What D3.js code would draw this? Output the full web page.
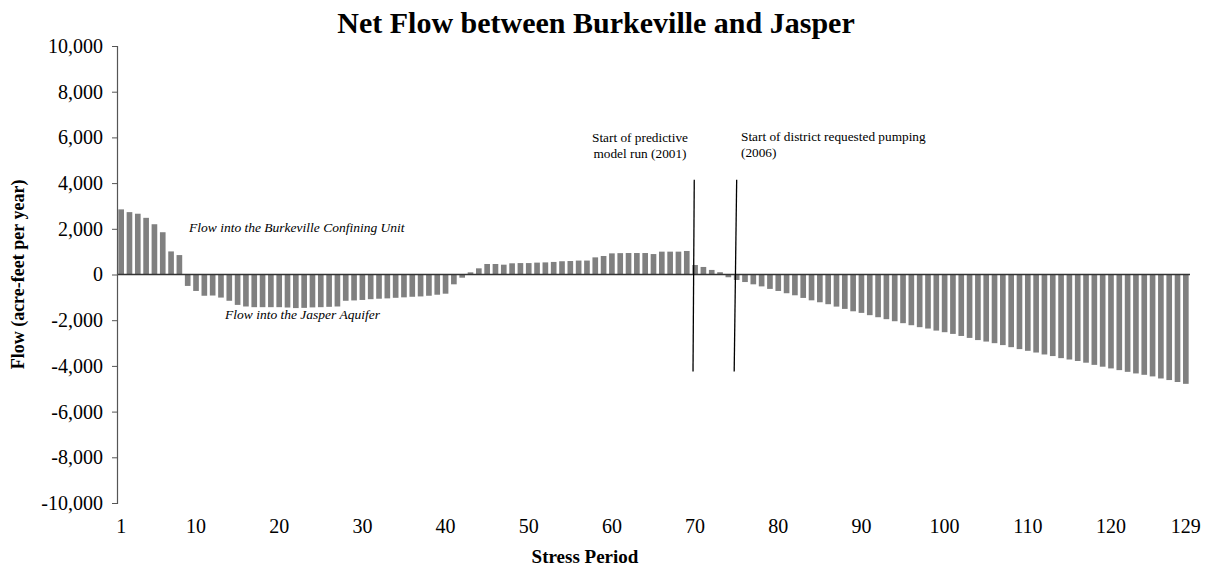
<!DOCTYPE html>
<html>
<head>
<meta charset="utf-8">
<script src="https://cdn.jsdelivr.net/npm/d3@7/dist/d3.min.js"></script>
<style>
  body { margin: 0; background: #fff; }
  text { font-family: "Liberation Serif", "Times New Roman", serif; fill: #000; }
</style>
</head>
<body>
<div id="chart"></div>
<script>
// stress periods 1..129
const periods = d3.range(1, 130)

// net flow per stress period (acre-feet per year)
const netFlow = [
  2850, 2730, 2660, 2480, 2200, 1850, 1010, 850, -500, -720,
  -930, -920, -1010, -1150, -1330, -1400, -1430, -1430, -1430, -1430,
  -1445, -1470, -1460, -1440, -1430, -1415, -1400, -1150, -1135, -1114,
  -1080, -1060, -1045, -1020, -1000, -975, -960, -930, -885, -840,
  -430, -140, 95, 270, 460, 460, 430, 490, 500, 500,
  520, 530, 550, 580, 590, 610, 610, 750, 810, 925,
  935, 940, 940, 940, 895, 1000, 1000, 1000, 1030, 415,
  330, 200, 100, -120, -240, -330, -430, -520, -630, -720,
  -820, -910, -1025, -1130, -1215, -1300, -1405, -1505, -1610, -1680,
  -1780, -1870, -1955, -2045, -2130, -2220, -2305, -2365, -2455, -2525,
  -2600, -2690, -2775, -2870, -2935, -3005, -3090, -3180, -3265, -3340,
  -3415, -3500, -3570, -3660, -3720, -3785, -3860, -3955, -4035, -4110,
  -4185, -4260, -4330, -4390, -4460, -4550, -4620, -4705, -4785
]

const xTickLabels = [1, 10, 20, 30, 40, 50, 60, 70, 80, 90, 100, 110, 120, 129]
const yTicks = [-10000, -8000, -6000, -4000, -2000, 0, 2000, 4000, 6000, 8000, 10000]

// vertical marker lines: [period at top, period at bottom, top value, bottom value]
const markerLines = [
  [69.9, 69.75, 4150, -4250],
  [75.0, 74.7, 4150, -4250]
]

const title = 'Net Flow between Burkeville and Jasper'
const xTitle = 'Stress Period'
const yTitle = 'Flow (acre-feet per year)'

const width = 1212, height = 573
const plot = {left: 117, right: 1190, top: 46, bottom: 503}

let svg = d3.select('#chart').append('svg')
  .attr('width', width)
  .attr('height', height)

let x = d3.scaleBand()
  .domain(periods)
  .range([plot.left, plot.right])
  .paddingInner(0.32)
  .paddingOuter(0.16)

let y = d3.scaleLinear()
  .domain([-10000, 10000])
  .range([plot.bottom, plot.top])

// fractional period -> pixel centre, for the marker lines
let xc = function(p){ return x(1) + x.bandwidth()/2 + (p - 1) * x.step() }

let fmt = d3.formatLocale({decimal: '.', thousands: ',', grouping: [3], currency: ['$', ''], minus: '-'}).format(',')

// bars
svg.append('g')
  .selectAll('rect')
  .data(netFlow)
  .enter().append('rect')
  .attr('x', function(d, i){ return x(periods[i]) })
  .attr('width', x.bandwidth())
  .attr('y', function(d){ return y(Math.max(0, d)) })
  .attr('height', function(d){ return Math.abs(y(d) - y(0)) })
  .attr('fill', '#808080')

// zero line
svg.append('line')
  .attr('x1', plot.left).attr('x2', plot.right)
  .attr('y1', y(0)).attr('y2', y(0))
  .attr('stroke', '#333')
  .attr('stroke-width', 1.3)

// y axis
let yAxis = svg.append('g')
  .attr('transform', 'translate(' + plot.left + ',0)')
  .call(d3.axisLeft(y).tickValues(yTicks).tickSize(5).tickPadding(9).tickFormat(fmt))
yAxis.select('.domain').attr('stroke', '#555').attr('stroke-width', 1.2)
yAxis.selectAll('.tick line').attr('stroke', '#555')
yAxis.selectAll('text')
  .style('font-family', '"Liberation Serif", "Times New Roman", serif')
  .style('font-size', '20px')
  .attr('fill', '#000')

// x tick labels (no axis line)
svg.append('g')
  .selectAll('text')
  .data(xTickLabels)
  .enter().append('text')
  .attr('x', function(d){ return x(d) + x.bandwidth()/2 })
  .attr('y', 533)
  .attr('text-anchor', 'middle')
  .style('font-size', '20px')
  .text(function(d){ return d })

// marker lines
svg.append('g')
  .selectAll('line')
  .data(markerLines)
  .enter().append('line')
  .attr('x1', function(d){ return xc(d[0]) })
  .attr('x2', function(d){ return xc(d[1]) })
  .attr('y1', function(d){ return y(d[2]) })
  .attr('y2', function(d){ return y(d[3]) })
  .attr('stroke', '#000')
  .attr('stroke-width', 1.3)

// annotations
svg.append('text')
  .attr('x', 189).attr('y', 232)
  .style('font-size', '13.5px').style('font-style', 'italic')
  .text('Flow into the Burkeville Confining Unit')
svg.append('text')
  .attr('x', 225).attr('y', 319)
  .style('font-size', '13.5px').style('font-style', 'italic')
  .text('Flow into the Jasper Aquifer')

let note1 = svg.append('text')
  .attr('text-anchor', 'middle')
  .style('font-size', '13.3px')
note1.append('tspan').attr('x', 640).attr('y', 142).text('Start of predictive')
note1.append('tspan').attr('x', 640).attr('y', 158).text('model run (2001)')

let note2 = svg.append('text')
  .style('font-size', '13.3px')
note2.append('tspan').attr('x', 741).attr('y', 141).text('Start of district requested pumping')
note2.append('tspan').attr('x', 741).attr('y', 157).text('(2006)')

// titles
svg.append('text')
  .attr('x', 596).attr('y', 33)
  .attr('text-anchor', 'middle')
  .style('font-size', '30px').style('font-weight', 'bold')
  .text(title)

svg.append('text')
  .attr('x', 585).attr('y', 563)
  .attr('text-anchor', 'middle')
  .style('font-size', '19px').style('font-weight', 'bold')
  .text(xTitle)

svg.append('text')
  .attr('transform', 'translate(24,' + ((plot.top + plot.bottom)/2) + ') rotate(-90)')
  .attr('text-anchor', 'middle')
  .style('font-size', '18px').style('font-weight', 'bold')
  .text(yTitle)
</script>
</body>
</html>
